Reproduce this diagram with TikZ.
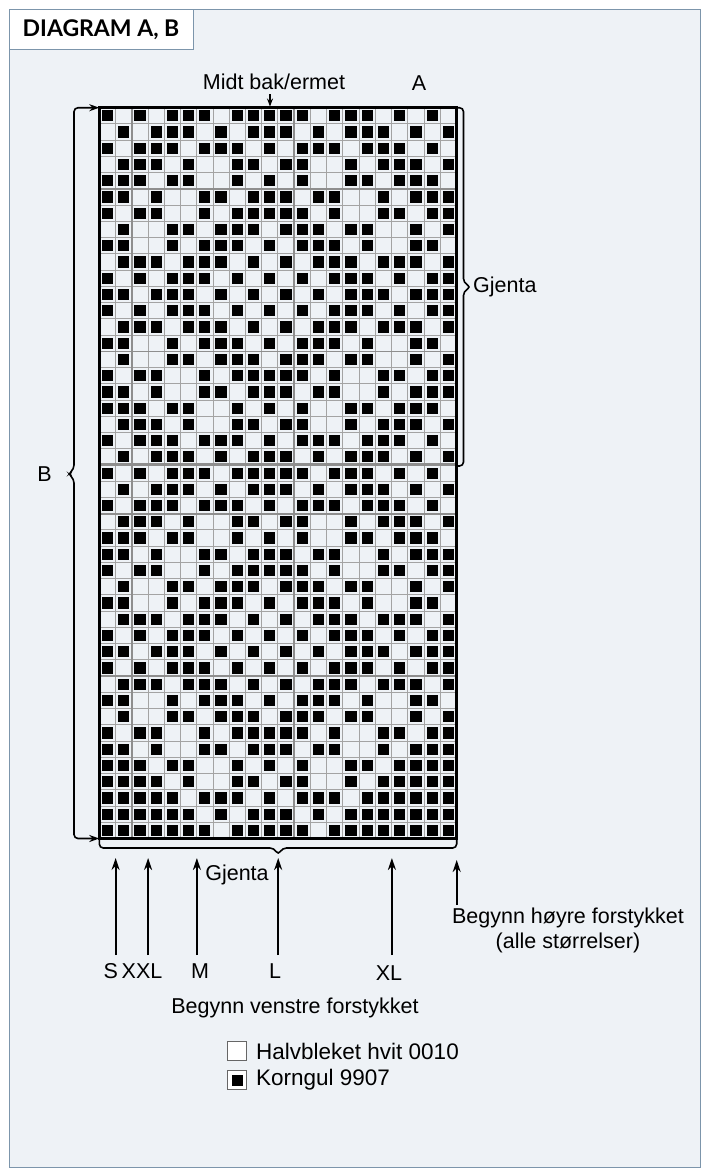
\documentclass[tikz,border=0pt]{standalone}
\usepackage{fontspec}
\setmainfont{Liberation Sans}
\newfontfamily\headfont{Lato}
\usetikzlibrary{arrows.meta}

\definecolor{framefill}{HTML}{EEF2F6}
\definecolor{frameline}{HTML}{7C95AB}
\definecolor{gridgray}{HTML}{A3A3A3}
\definecolor{markgray}{HTML}{8E8E8E}

\begin{document}
\begin{tikzpicture}[
    x=1pt, y=-1pt,
    lbl/.style={font=\fontsize{21.5}{24}\selectfont, inner sep=0pt},
    legtext/.style={font=\fontsize{22.5}{25}\selectfont, inner sep=0pt, anchor=west},
    arr/.style={-{Stealth[length=12pt, width=8pt]}, line width=2pt},
    smallarr/.style={-{Stealth[length=8pt, width=6pt]}, line width=1.4pt},
    brace/.style={line width=1.6pt, rounded corners=4pt},
    gridline/.style={draw=gridgray, line width=0.9pt},
    markline/.style={draw=markgray, line width=1.6pt},
    legbox/.style={draw=gray!80!black, fill=white, line width=0.8pt, minimum size=19pt, inner sep=0pt},
]
\useasboundingbox (0,0) rectangle (702,1176);

% frame and header tab
\draw[frameline, fill=framefill, line width=1pt] (9,9) rectangle (700.5,1167);
\draw[frameline, fill=white, line width=1pt] (9,9) rectangle (193,49);
\node[font=\headfont\bfseries\fontsize{23}{26}\selectfont, inner sep=0pt] (title) at (101,29.5) {DIAGRAM A, B};

% chart: 22 stitches x 45 rows
\coordinate (gridNW) at (99.3,107.7);
\coordinate (gridNE) at (456.7,107.7);
\coordinate (gridSW) at (99.3,838.5);
\coordinate (gridSE) at (456.7,838.5);
\begin{scope}[shift={(99.3,107.7)}, x=16.24pt, y=-16.24pt]
  \foreach \i in {0,...,22} \draw[gridline] (\i,0) -- (\i,45);
  \foreach \j in {0,...,45} \draw[gridline] (0,\j) -- (22,\j);
  \foreach \i in {2,12} \draw[markline] (\i,0) -- (\i,45);
  \foreach \j in {5,15,25,35} \draw[markline] (0,\j) -- (22,\j);
  \draw[draw=markgray, line width=3pt] (0,22) -- (22,22);
  \foreach \cells [count=\r] in {
      {1,3,5,6,7,9,10,11,12,13,15,16,17,19,21},
      {2,4,5,6,8,10,11,12,14,16,17,18,20,22},
      {1,3,4,5,7,8,9,11,13,14,15,17,18,19,21},
      {2,3,4,6,9,10,12,13,16,18,19,20,22},
      {1,2,3,5,6,9,11,13,16,17,19,20,21},
      {1,2,4,7,8,10,11,12,14,15,18,20,21,22},
      {1,3,4,7,9,10,11,12,13,15,18,19,21,22},
      {2,5,6,8,9,10,12,13,14,16,17,20,22},
      {1,2,5,7,8,9,11,13,14,15,17,20,21},
      {2,3,4,6,7,8,10,12,14,15,16,18,19,20,22},
      {1,3,5,6,7,9,11,13,15,16,17,19,21,22},
      {1,2,4,5,6,8,10,12,14,16,17,18,20,21,22},
      {1,3,5,6,7,9,11,13,15,16,17,19,21,22},
      {2,3,4,6,7,8,10,12,14,15,16,18,19,20,22},
      {1,2,5,7,8,9,11,13,14,15,17,20,21},
      {2,5,6,8,9,10,12,13,14,16,17,20,22},
      {1,3,4,7,9,10,11,12,13,15,18,19,21,22},
      {1,2,4,7,8,10,11,12,14,15,18,20,21,22},
      {1,2,3,5,6,9,11,13,16,17,19,20,21},
      {2,3,4,6,9,10,12,13,16,18,19,20,22},
      {1,3,4,5,7,8,9,11,13,14,15,17,18,19,21},
      {2,4,5,6,8,10,11,12,14,16,17,18,20,22},
      {1,3,5,6,7,9,10,11,12,13,15,16,17,19,21},
      {2,4,5,6,8,10,11,12,14,16,17,18,20,22},
      {1,3,4,5,7,8,9,11,13,14,15,17,18,19,21},
      {2,3,4,6,9,10,12,13,16,18,19,20,22},
      {1,2,3,5,6,9,11,13,16,17,19,20,21},
      {1,2,4,7,8,10,11,12,14,15,18,20,21,22},
      {1,3,4,7,9,10,11,12,13,15,18,19,21,22},
      {2,5,6,8,9,10,12,13,14,16,17,20,22},
      {1,2,5,7,8,9,11,13,14,15,17,20,21},
      {2,3,4,6,7,8,10,12,14,15,16,18,19,20,22},
      {1,3,5,6,7,9,11,13,15,16,17,19,21,22},
      {1,2,4,5,6,8,10,12,14,16,17,18,20,21,22},
      {1,3,5,6,7,9,11,13,15,16,17,19,21,22},
      {2,3,4,6,7,8,10,12,14,15,16,18,19,20,22},
      {1,2,5,7,8,9,11,13,14,15,17,20,21},
      {2,5,6,8,9,10,12,13,14,16,17,20,22},
      {1,3,4,7,9,10,11,12,13,15,18,19,21,22},
      {1,2,4,7,8,10,11,12,14,15,18,20,21,22},
      {1,2,3,5,6,9,11,13,16,17,19,20,21,22},
      {1,2,3,4,6,9,10,12,13,16,18,19,20,21,22},
      {1,2,3,4,5,7,8,9,11,13,14,15,17,18,19,20,21,22},
      {1,2,3,4,5,6,8,10,11,12,14,16,17,18,19,20,21,22},
      {1,2,3,4,5,6,7,9,10,11,12,13,15,16,17,18,19,20,21,22}}
    \foreach \c in \cells
      \fill (\c-0.845,\r-0.845) rectangle (\c-0.155,\r-0.155);
  \draw[line width=2.8pt] (0,0) rectangle (22,45);
\end{scope}

% top labels
\node[lbl] (midt) at (274,82) {Midt bak/ermet};
\node[lbl] (chartA) at (419,83) {A};
\coordinate (midtTail) at (270,94);
\coordinate (midtTip) at (270,106.5);
\draw[smallarr] (midtTail) -- (midtTip);

% B bracket, left
\node[lbl] (chartB) at (44.5,474) {B};
\draw[brace, {Stealth[length=10pt, width=7pt]}-{Stealth[length=10pt, width=7pt]}]
  (gridNW) -- (74,107.7) -- (74,469) -- (68.5,474) -- (74,479) -- (74,838.5) -- (gridSW);

% repeat brace, right
\draw[brace] (gridNE) -- (463.5,107.7) -- (463.5,282.5) -- (471,287) -- (463.5,291.5) -- (463.5,466) -- (456.7,466);
\node[lbl, anchor=west] (gjentaR) at (473,287) {Gjenta};

% repeat brace, bottom
\draw[brace] (gridSW) -- (99.3,848) -- (274,848) -- (278.2,855) -- (282.4,848) -- (456.7,848) -- (gridSE);
\node[lbl] (gjentaB) at (237,875) {Gjenta};

% size arrows
\foreach \sz/\x in {s/115.6, xxl/148.1, m/196.9, l/278.2, xl/391.9}{
  \coordinate (\sz-tail) at (\x,955);
  \coordinate (\sz-tip) at (\x,858);
  \draw[arr] (\sz-tail) -- (\sz-tip);
}
\node[lbl] (sizeS) at (110.7,971) {S};
\node[lbl] (sizeXXL) at (142,971) {XXL};
\node[lbl] (sizeM) at (200,971) {M};
\node[lbl] (sizeL) at (275,971) {L};
\node[lbl] (sizeXL) at (389,973) {XL};
\node[lbl] (venstre) at (295,1008) {Begynn venstre forstykket};

\coordinate (hoyreTail) at (456.7,905);
\coordinate (hoyreTip) at (456.7,860);
\draw[arr] (hoyreTail) -- (hoyreTip);
\node[lbl] (hoyre) at (568,918) {Begynn høyre forstykket};
\node[lbl] (alle) at (568,943) {(alle størrelser)};

% legend
\node[legbox] (whitebox) at (237,1051) {};
\node[legtext] (whitetext) at (256,1051) {Halvbleket hvit 0010};
\node[legbox] (yellowbox) at (237,1080) {};
\node[fill=black, minimum size=11pt, inner sep=0pt] (yellowmark) at (yellowbox) {};
\node[legtext] (yellowtext) at (256,1080) {Korngul 9907};
\end{tikzpicture}
\end{document}
